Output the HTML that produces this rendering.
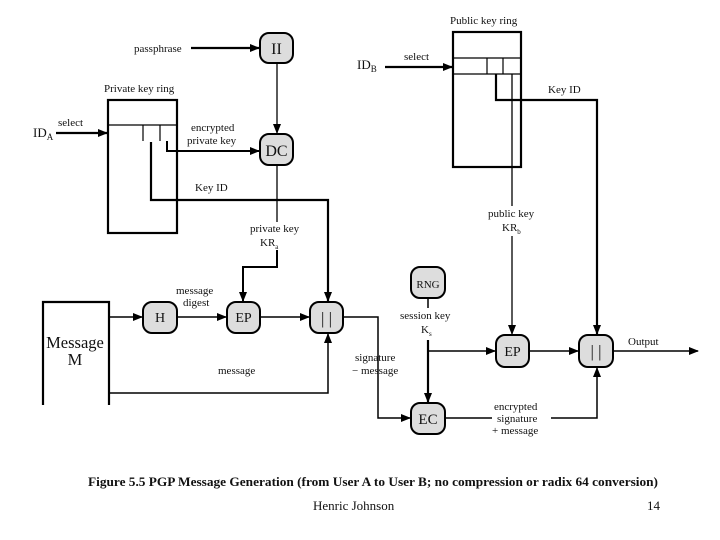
<!DOCTYPE html>
<html><head><meta charset="utf-8"><style>
html,body{margin:0;padding:0;background:#fff;}
svg{display:block;}
text{font-family:"Liberation Serif",serif;fill:#111;}
</style></head><body>
<svg width="720" height="540" viewBox="0 0 720 540" xmlns="http://www.w3.org/2000/svg">
<defs>
<marker id="a" markerWidth="10" markerHeight="8" refX="9" refY="4" orient="auto" markerUnits="userSpaceOnUse">
<path d="M0,0 L10,4 L0,8 Z" fill="#000"/></marker>
</defs>
<g fill="none" stroke="#000" stroke-width="2.2">
<rect x="108" y="100" width="69" height="133"/>
<line x1="108" y1="125" x2="177" y2="125" stroke-width="1.2"/>
<line x1="143" y1="125" x2="143" y2="141" stroke-width="1.2"/>
<line x1="160" y1="125" x2="160" y2="141" stroke-width="1.2"/>
<rect x="453" y="32" width="68" height="135"/>
<line x1="453" y1="58" x2="521" y2="58" stroke-width="1.2"/>
<line x1="453" y1="74" x2="521" y2="74" stroke-width="1.2"/>
<line x1="487" y1="58" x2="487" y2="74" stroke-width="1.2"/>
<line x1="503" y1="58" x2="503" y2="74" stroke-width="1.2"/>
<path d="M43,405 L43,302 L109,302 L109,405"/>
</g>
<g fill="#ddd" stroke="#000" stroke-width="2">
<rect x="260" y="33" width="33" height="30" rx="9"/>
<rect x="260" y="134" width="33" height="31" rx="9"/>
<rect x="143" y="302" width="34" height="31" rx="9"/>
<rect x="227" y="302" width="33" height="31" rx="9"/>
<rect x="310" y="302" width="33" height="31" rx="9"/>
<rect x="411" y="267" width="34" height="31" rx="9"/>
<rect x="496" y="335" width="33" height="32" rx="9"/>
<rect x="579" y="335" width="34" height="32" rx="9"/>
<rect x="411" y="403" width="34" height="31" rx="9"/>
</g>
<g fill="none" stroke="#000">
<line x1="191" y1="48" x2="259" y2="48" stroke-width="2.2" marker-end="url(#a)"/>
<line x1="277" y1="63" x2="277" y2="133" stroke-width="1.3" marker-end="url(#a)"/>
<line x1="56" y1="133" x2="107" y2="133" stroke-width="2.2" marker-end="url(#a)"/>
<path d="M167,141 L167,151 L259,151" stroke-width="2" marker-end="url(#a)"/>
<path d="M151,142 L151,200 L328,200 L328,301" stroke-width="2.2" marker-end="url(#a)"/>
<path d="M277,165 L277,222" stroke-width="1.3"/>
<path d="M277,250 L277,267 L243,267 L243,301" stroke-width="2" marker-end="url(#a)"/>
<line x1="385" y1="67" x2="452" y2="67" stroke-width="2.2" marker-end="url(#a)"/>
<path d="M496,74 L496,100 L597,100 L597,334" stroke-width="2.2" marker-end="url(#a)"/>
<path d="M512,74 L512,206" stroke-width="1.3"/>
<path d="M512,236 L512,334" stroke-width="1.3" marker-end="url(#a)"/>
<line x1="109" y1="317" x2="142" y2="317" stroke-width="1.5" marker-end="url(#a)"/>
<line x1="177" y1="317" x2="226" y2="317" stroke-width="1.5" marker-end="url(#a)"/>
<line x1="260" y1="317" x2="309" y2="317" stroke-width="1.5" marker-end="url(#a)"/>
<path d="M109,393 L328,393 L328,334" stroke-width="1.5" marker-end="url(#a)"/>
<path d="M343,317 L378,317 L378,418 L410,418" stroke-width="1.5" marker-end="url(#a)"/>
<path d="M428,298 L428,308" stroke-width="1.5"/>
<path d="M428,340 L428,402" stroke-width="2.2" marker-end="url(#a)"/>
<line x1="428" y1="351" x2="495" y2="351" stroke-width="1.5" marker-end="url(#a)"/>
<line x1="529" y1="351" x2="578" y2="351" stroke-width="1.5" marker-end="url(#a)"/>
<line x1="613" y1="351" x2="698" y2="351" stroke-width="1.5" marker-end="url(#a)"/>
<path d="M445,418 L492,418 M551,418 L597,418 L597,368" stroke-width="1.5" marker-end="url(#a)"/>
</g>
<g font-size="14" text-anchor="middle">
<text x="276.5" y="54" font-size="16">II</text>
<text x="276.5" y="156" font-size="16">DC</text>
<text x="160" y="322">H</text>
<text x="243.5" y="322">EP</text>
<text x="326.5" y="324" font-size="17">| |</text>
<text x="428" y="288" font-size="11">RNG</text>
<text x="512.5" y="356">EP</text>
<text x="596" y="357" font-size="17">| |</text>
<text x="428" y="424" font-size="15">EC</text>
</g>
<g font-size="11">
<text x="134" y="52">passphrase</text>
<text x="104" y="92">Private key ring</text>
<text x="33" y="137" font-size="13">ID<tspan font-size="9" dy="3">A</tspan></text>
<text x="58" y="126">select</text>
<text x="191" y="131">encrypted</text>
<text x="187" y="144">private key</text>
<text x="195" y="191">Key ID</text>
<text x="250" y="232">private key</text>
<text x="260" y="246">KR<tspan font-size="7" dy="3">a</tspan></text>
<text x="450" y="24">Public key ring</text>
<text x="357" y="69" font-size="13">ID<tspan font-size="9" dy="3">B</tspan></text>
<text x="404" y="60">select</text>
<text x="548" y="93">Key ID</text>
<text x="488" y="217">public key</text>
<text x="502" y="231">KR<tspan font-size="7" dy="3">b</tspan></text>
<text x="176" y="294">message</text>
<text x="183" y="306">digest</text>
<text x="218" y="374">message</text>
<text x="355" y="361">signature</text>
<text x="352" y="374">− message</text>
<text x="400" y="319">session key</text>
<text x="421" y="333">K<tspan font-size="7" dy="3">s</tspan></text>
<text x="628" y="345">Output</text>
<text x="494" y="410">encrypted</text>
<text x="497" y="422">signature</text>
<text x="492" y="434">+ message</text>
</g>
<text x="75" y="348" font-size="16.5" text-anchor="middle">Message</text>
<text x="75" y="365" font-size="16.5" text-anchor="middle">M</text>
<text x="88" y="486" font-size="12.5" font-weight="bold" textLength="570" lengthAdjust="spacingAndGlyphs">Figure 5.5   PGP Message Generation (from User A to User B; no compression or radix 64 conversion)</text>
<text x="313" y="510" font-size="13">Henric Johnson</text>
<text x="647" y="510" font-size="13">14</text>
</svg>
</body></html>
